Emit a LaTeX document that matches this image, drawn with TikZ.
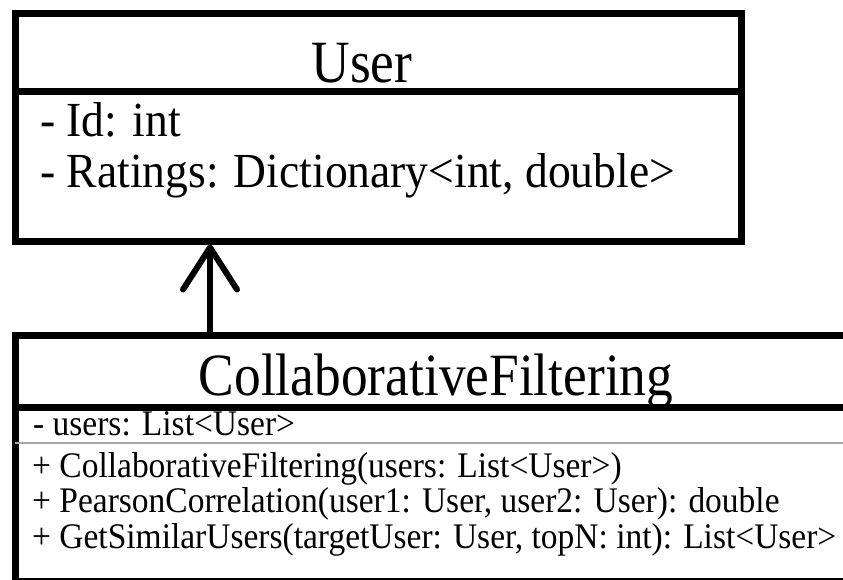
\documentclass[tikz,border=0pt]{standalone}
\usepackage{fontspec}
\setmainfont{Liberation Serif}[FakeStretch=0.93]
\newfontfamily\titlefont{Liberation Serif}[FakeStretch=0.89]
\usetikzlibrary{arrows.meta,calc,positioning}
\tikzset{class box/.style={draw, line width=7pt, inner sep=0pt, outer sep=0pt},
%text styles of the two classes
class name/.style={anchor=base, inner sep=0pt, font=\titlefont\fontsize{60}{60}\selectfont},
member/.style={anchor=base west, inner sep=0pt, font=\fontsize{49}{50}\selectfont},
small member/.style={anchor=base west, inner sep=0pt, font=\fontsize{36}{37}\selectfont}}

\begin{document}
\begin{tikzpicture}[x=1pt,y=1pt]
  \useasboundingbox (0,0) rectangle (843,-579);

%DRAWING CLASSES
  \node[class box, minimum width=726pt, minimum height=228pt] (user) at (378,-127) {};
  \node[class box, minimum width=856pt, minimum height=246pt] (cf) at (443,-458) {};

  \draw[line width=7pt] ($(user.north west)+(0,-78)$) -- ($(user.north east)+(0,-78)$);
  \draw[line width=7pt] ($(cf.north west)+(0,-72)$) -- ($(cf.north east)+(0,-72)$);
  \draw[line width=1.5pt,gray!70] ($(cf.north west)+(0,-108)$) -- ($(cf.north east)+(0,-108)$);

%DRAWING TEXTS
  \node[class name] (userName) at (362,-82) {User};
  \node[member] (userId) at (40,-136) {- Id: int};
  \node[member] (userRatings) at (40,-187) {- Ratings: Dictionary<int, double>};

  \node[class name] (cfName) at (436,-395) {CollaborativeFiltering};
  \node[small member] (cfUsers) at (33,-435) {- users: List<User>};
  \node[small member] (cfCtor) at (32,-477) {+ CollaborativeFiltering(users: List<User>)};
  \node[small member] (cfPearson) at (32,-512.5) {+ PearsonCorrelation(user1: User, user2: User): double};
  \node[small member] (cfSimilar) at (32,-548) {+ GetSimilarUsers(targetUser: User, topN: int): List<User>};

%DRAWING ASSOCIATION
  \coordinate (arrowStart) at ($(cf.north west)+(195,0)$);
  \coordinate (arrowEnd) at ($(user.south west)+(195,0)$);
  \draw[line width=6pt, shorten >=3.5pt, -{Straight Barb[length=42pt,width=54pt,round]}] (arrowStart) -- (arrowEnd);

\end{tikzpicture}
\end{document}
